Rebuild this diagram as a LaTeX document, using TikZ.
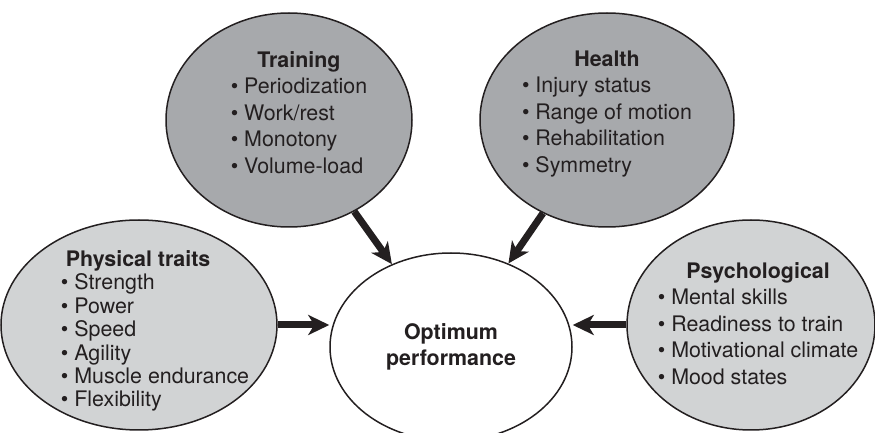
\documentclass[tikz,border=0pt]{standalone}
\usepackage{fontspec}
\setmainfont{TeX Gyre Heros}
\usetikzlibrary{shapes.geometric, arrows.meta}

\definecolor{ink}{HTML}{231F20}
\definecolor{shadedark}{HTML}{A7A9AC}
\definecolor{shadelight}{HTML}{D1D3D4}

\begin{document}
\begin{tikzpicture}[
        x=0.5pt, y=-0.5pt,
        >=Stealth,
        factor/.style={draw=ink, ellipse, line width=0.75pt, inner sep=0pt},
        itemlist/.style={inner sep=0pt, text=ink, font=\fontsize{10.7pt}{13.2pt}\selectfont},
        flow/.style={-{Stealth[length=10.5pt, width=10pt, inset=3pt]}, line width=3.5pt, draw=ink}
    ]
    \useasboundingbox (0,0) rectangle (875,433);
    % the four factor ellipses and the goal
    \node[factor, fill=shadedark, minimum width=123pt, minimum height=107pt] (train) at (289,120) {};
    \node[factor, fill=shadedark, minimum width=127pt, minimum height=107pt] (health) at (607,120) {};
    \node[factor, fill=shadelight, minimum width=138pt, minimum height=105pt] (phys) at (139,325) {};
    \node[factor, fill=shadelight, minimum width=124pt, minimum height=105pt] (psych) at (751,325) {};
    \node[factor, fill=white, minimum width=121pt, minimum height=94pt, text=ink, align=center,
        font=\bfseries\fontsize{10.7pt}{13pt}\selectfont] (opt) at (451,347) {Optimum\\performance};
    % lists
    \node[itemlist] (train-txt) at (299,115) {\begin{tabular}{@{}l@{}}
        \multicolumn{1}{@{}c@{}}{\bfseries Training}\\
        \textbullet\ Periodization\\
        \textbullet\ Work/rest\\
        \textbullet\ Monotony\\
        \textbullet\ Volume-load
    \end{tabular}};
    \node[itemlist] (health-txt) at (607,114) {\begin{tabular}{@{}l@{}}
        \multicolumn{1}{@{}c@{}}{\bfseries Health}\\
        \textbullet\ Injury status\\
        \textbullet\ Range of motion\\
        \textbullet\ Rehabilitation\\
        \textbullet\ Symmetry
    \end{tabular}};
    \node[itemlist, font=\fontsize{10.7pt}{11.7pt}\selectfont] (phys-txt) at (155,332) {\begin{tabular}{@{}l@{}}
        \multicolumn{1}{@{}l@{}}{\hspace{2.5pt}\bfseries Physical traits}\\
        \textbullet\ Strength\\
        \textbullet\ Power\\
        \textbullet\ Speed\\
        \textbullet\ Agility\\
        \textbullet\ Muscle endurance\\
        \textbullet\ Flexibility
    \end{tabular}};
    \node[itemlist] (psych-txt) at (758,326) {\begin{tabular}{@{}l@{}}
        \multicolumn{1}{@{}c@{}}{\bfseries Psychological}\\
        \textbullet\ Mental skills\\
        \textbullet\ Readiness to train\\
        \textbullet\ Motivational climate\\
        \textbullet\ Mood states
    \end{tabular}};
    % arrows into the goal
    \draw[flow] (train) -- (opt);
    \draw[flow] (health) -- (opt);
    \draw[flow] (phys.east) -- (opt.west |- phys.east);
    \draw[flow] (psych.west) -- (opt.east |- psych.west);
\end{tikzpicture}
\end{document}
